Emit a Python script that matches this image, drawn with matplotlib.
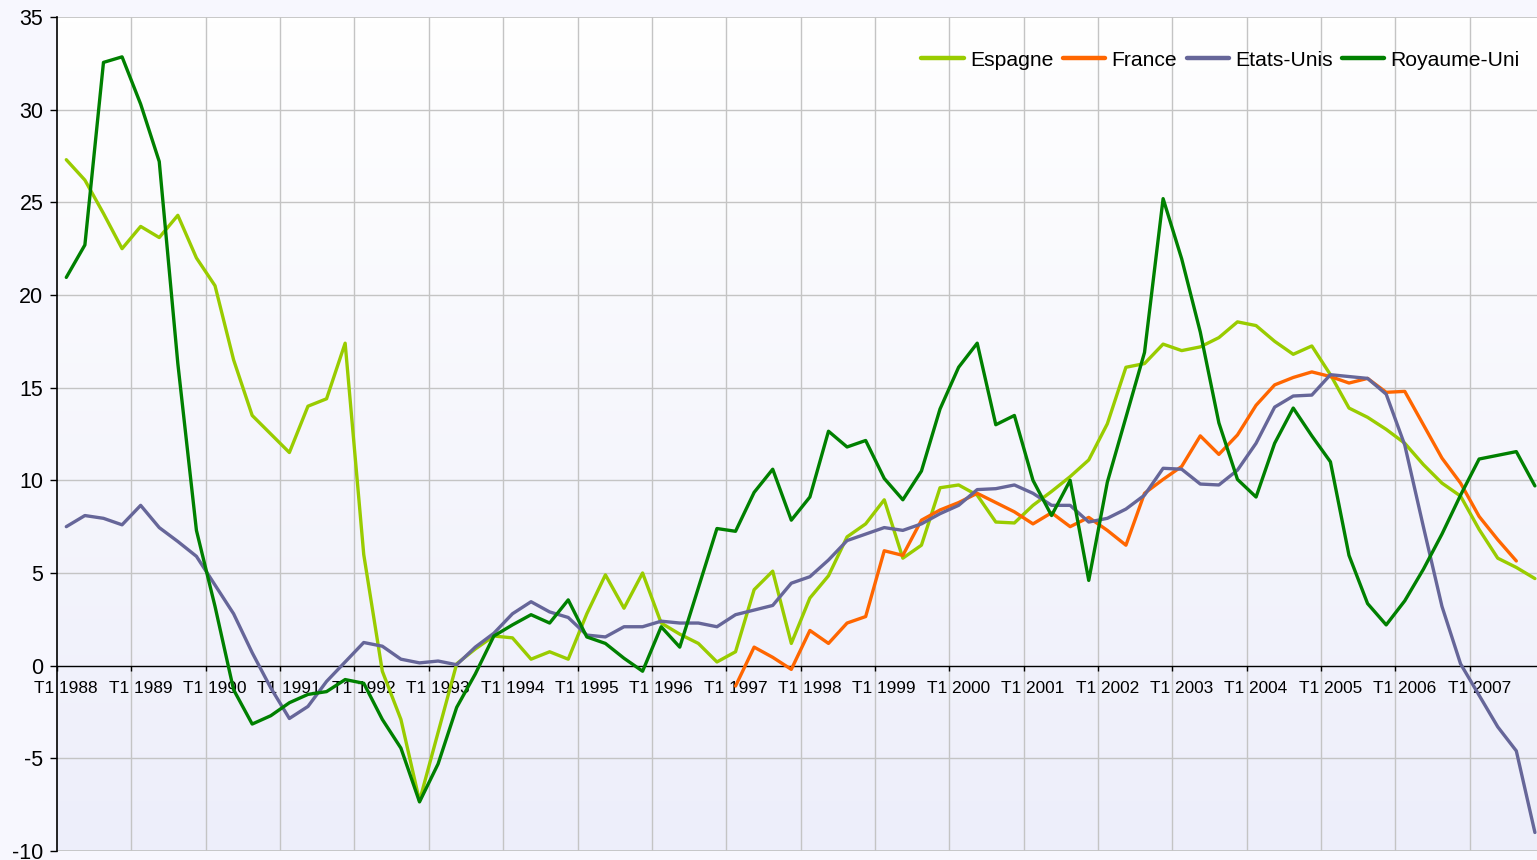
import numpy as np
import matplotlib
matplotlib.use('Agg')
import matplotlib.pyplot as plt
from matplotlib.colors import LinearSegmentedColormap

plt.rcParams['font.family'] = ['Liberation Sans', 'DejaVu Sans']

tick_labels = ["T1 1988", "T1 1989", "T1 1990", "T1 1991", "T1 1992",
               "T1 1993", "T1 1994", "T1 1995", "T1 1996", "T1 1997",
               "T1 1998", "T1 1999", "T1 2000", "T1 2001", "T1 2002",
               "T1 2003", "T1 2004", "T1 2005", "T1 2006", "T1 2007"]

espagne = [27.3, 26.2, 24.4, 22.5, 23.7, 23.1, 24.3, 22.0,
           20.5, 16.5, 13.5, 12.5, 11.5, 14.0, 14.4, 17.4,
           6.0, -0.3, -2.9, -7.3, -3.6, 0.1, 0.9, 1.6,
           1.5, 0.35, 0.75, 0.35, 2.8, 4.9, 3.1, 5.0,
           2.3, 1.7, 1.2, 0.2, 0.75, 4.1, 5.1, 1.2,
           3.65, 4.85, 6.95, 7.65, 8.95, 5.8, 6.5, 9.6,
           9.75, 9.2, 7.75, 7.7, 8.65, 9.4, 10.2, 11.1,
           13.05, 16.1, 16.3, 17.35, 17.0, 17.2, 17.7, 18.55,
           18.35, 17.5, 16.8, 17.25, 15.7, 13.9, 13.4, 12.75,
           12.0, 10.85, 9.85, 9.15, 7.35, 5.8, 5.3, 4.7]

france = [np.nan] * 36 + [
           -1.1, 1.0, 0.45, -0.2,
           1.9, 1.2, 2.3, 2.65, 6.2, 5.95, 7.85, 8.4,
           8.8, 9.3, 8.8, 8.3, 7.65, 8.25, 7.5, 8.0,
           7.3, 6.5, 9.3, 10.05, 10.75, 12.4, 11.4, 12.45,
           14.05, 15.15, 15.55, 15.85, 15.6, 15.25, 15.5, 14.75,
           14.8, 13.0, 11.2, 9.85, 8.05, 6.8, 5.65, np.nan]

etats_unis = [7.5, 8.1, 7.95, 7.6, 8.65, 7.45, 6.7, 5.9,
              4.35, 2.8, 0.7, -1.2, -2.85, -2.2, -0.85, 0.2,
              1.25, 1.05, 0.35, 0.15, 0.25, 0.05, 1.0, 1.75,
              2.8, 3.45, 2.9, 2.6, 1.65, 1.55, 2.1, 2.1,
              2.4, 2.3, 2.3, 2.1, 2.75, 3.0, 3.25, 4.45,
              4.8, 5.7, 6.75, 7.1, 7.45, 7.3, 7.65, 8.2,
              8.65, 9.5, 9.55, 9.75, 9.3, 8.65, 8.65, 7.75,
              7.95, 8.45, 9.2, 10.65, 10.6, 9.8, 9.75, 10.55,
              12.0, 13.95, 14.55, 14.6, 15.7, 15.6, 15.5, 14.65,
              11.9, 7.5, 3.2, 0.1, -1.6, -3.3, -4.6, -9.0]

royaume_uni = [20.95, 22.7, 32.55, 32.85, 30.3, 27.2, 16.3, 7.3,
               3.2, -1.3, -3.15, -2.7, -2.0, -1.55, -1.4, -0.75,
               -0.95, -2.9, -4.45, -7.35, -5.3, -2.25, -0.45, 1.6,
               2.2, 2.75, 2.3, 3.55, 1.55, 1.2, 0.4, -0.3,
               2.1, 1.0, 4.2, 7.4, 7.25, 9.35, 10.6, 7.85,
               9.1, 12.65, 11.8, 12.15, 10.1, 8.95, 10.5, 13.85,
               16.1, 17.4, 13.0, 13.5, 10.0, 8.1, 10.0, 4.6,
               9.9, 13.4, 16.9, 25.2, 21.95, 18.0, 13.1, 10.05,
               9.1, 12.0, 13.9, 12.4, 11.0, 5.95, 3.35, 2.2,
               3.5, 5.2, 7.1, 9.2, 11.15, 11.35, 11.55, 9.7]

series = [("Espagne", espagne, "#99CC00"),
          ("France", france, "#FF6600"),
          ("Etats-Unis", etats_unis, "#666699"),
          ("Royaume-Uni", royaume_uni, "#008000")]

W, H = 1537, 860
fig = plt.figure(figsize=(W / 100, H / 100), dpi=100, facecolor="#F7F7FE")
left_px, top_px, bottom_px = 57, 17, 851
ax = fig.add_axes([left_px / W, 1 - bottom_px / H, 1 - left_px / W,
                   (bottom_px - top_px) / H])

n = len(espagne)
x = np.arange(n)
q_px = 18.59
xmin = -0.5
xmax = (W - left_px) / q_px - 0.5
ymin, ymax = -10, 35

# gradient background of plot area
cmap = LinearSegmentedColormap.from_list("bg", ["#FFFFFF", "#EDEEFA"])
ax.imshow(np.linspace(0, 1, 256).reshape(-1, 1), aspect="auto", cmap=cmap,
          extent=[xmin, xmax, ymin, ymax], zorder=0, interpolation="bilinear")
ax.set_facecolor("none")

# grid
for b in np.arange(3.5, n, 4):
    if b < xmax:
        ax.axvline(b, color="#C4C4C4", lw=1.0, zorder=1)
for yv in range(ymin, ymax + 1, 5):
    if yv != 0:
        ax.axhline(yv, color="#C4C4C4", lw=1.3 if yv in (ymin, ymax) else 1.0, zorder=1)

for name, vals, col in series:
    ax.plot(x, vals, color=col, lw=2.4, label=name, zorder=3,
            solid_joinstyle="round", solid_capstyle="round")

for s in ("top", "right"):
    ax.spines[s].set_visible(False)
ax.spines["bottom"].set_position(("data", 0))
ax.spines["bottom"].set_color("black")
ax.spines["bottom"].set_linewidth(1.0)
ax.spines["bottom"].set_zorder(2)
ax.spines["left"].set_color("black")
ax.spines["left"].set_linewidth(1.2)

ax.set_xticks(np.arange(-0.5, n, 4))
ax.set_xticklabels([])
ax.tick_params(axis="x", which="major", direction="out", length=3.5,
               width=1, color="black")
ax.set_xticks(np.arange(0, n, 4), minor=True)
ax.set_xticklabels(tick_labels, minor=True)
ax.tick_params(axis="x", which="minor", length=0, pad=11.0, labelsize=12.4)

ax.set_yticks(range(ymin, ymax + 1, 5))
ax.set_yticklabels([str(v) for v in range(ymin, ymax + 1, 5)])
ax.tick_params(axis="y", direction="out", length=4.8, width=1, pad=5.0,
               labelsize=15.5, color="black")

leg = ax.legend(loc="center right", bbox_to_anchor=(1520 / W, 1 - 60 / H),
                bbox_transform=fig.transFigure, ncol=4, frameon=False,
                fontsize=15.2, handlelength=2.0, handletextpad=0.3,
                columnspacing=0.45, borderpad=0, borderaxespad=0)
for line in leg.get_lines():
    line.set_linewidth(3.2)

ax.set_xlim(xmin, xmax)
ax.set_ylim(ymin, ymax)
ax.set_autoscale_on(False)

fig.savefig("out.png", dpi=100, facecolor=fig.get_facecolor())
